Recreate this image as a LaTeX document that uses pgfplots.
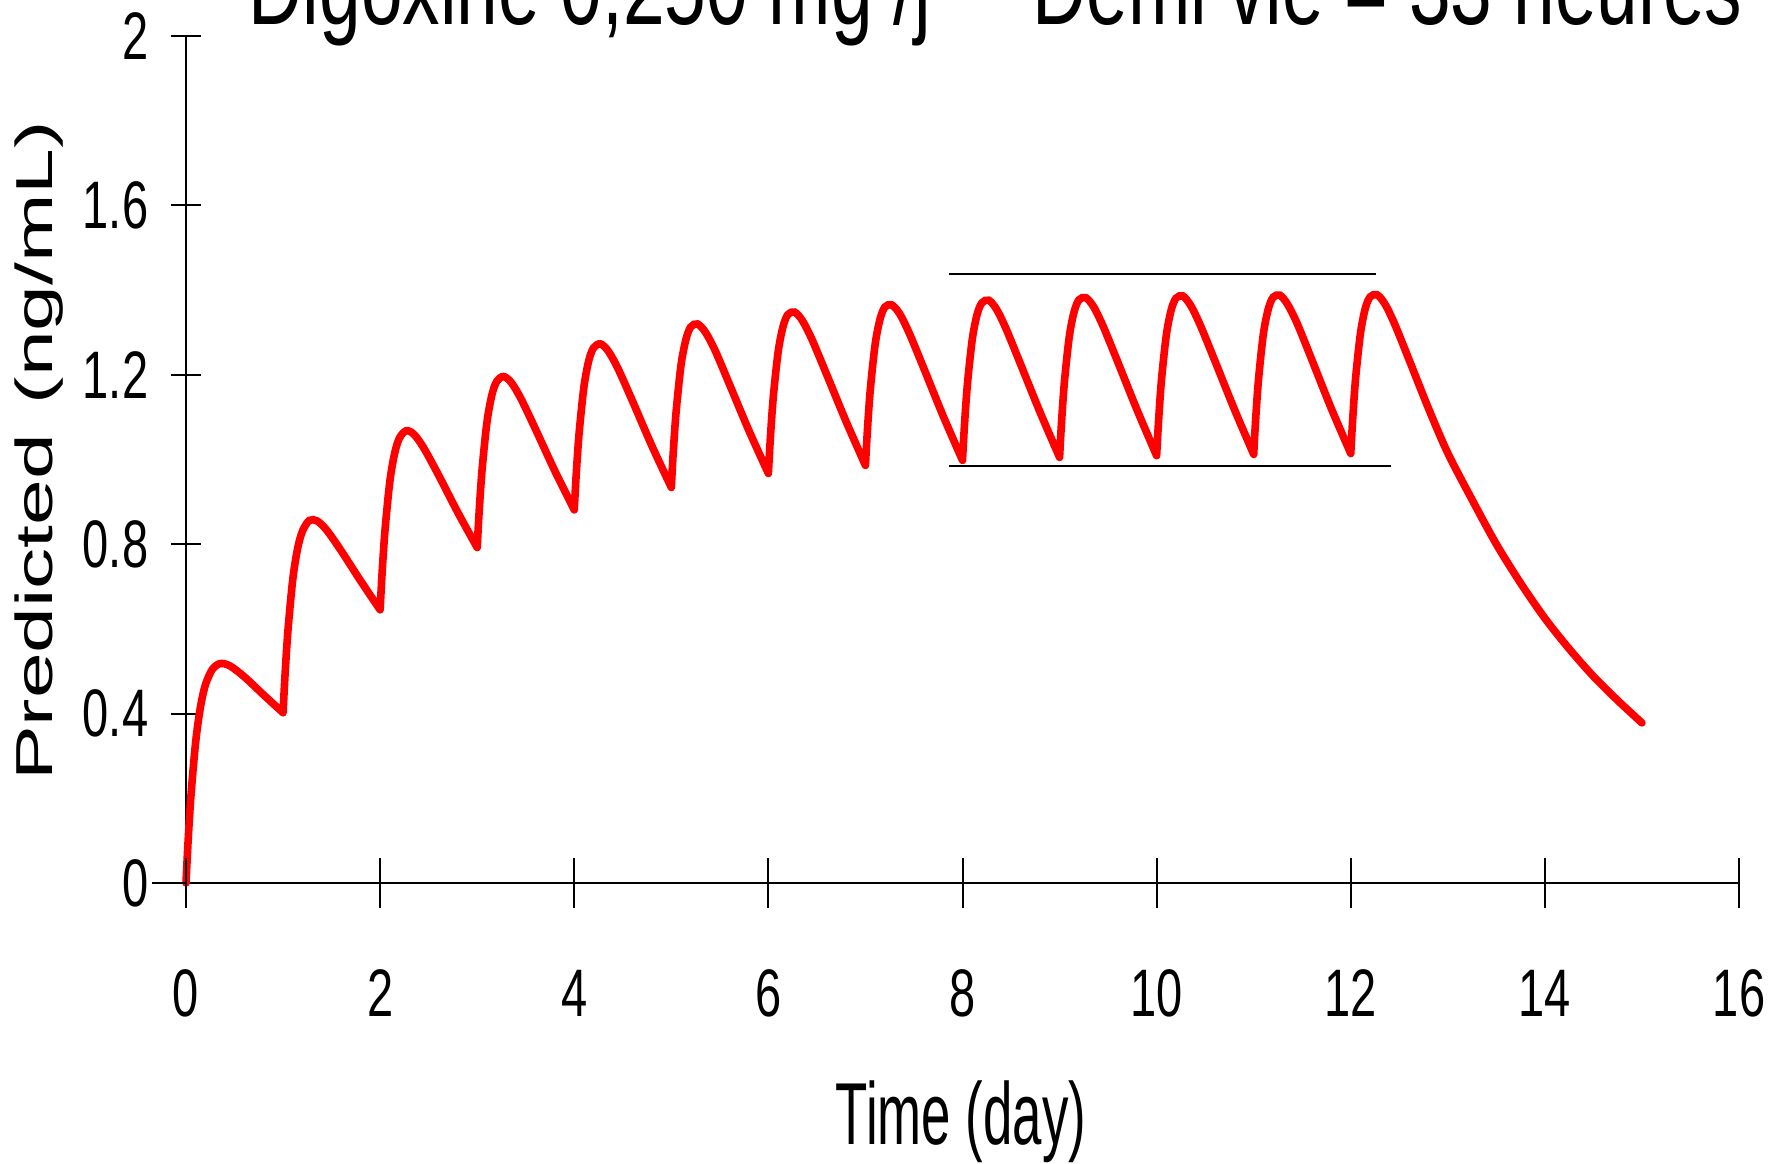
\documentclass[border=0pt]{standalone}
\usepackage{graphicx}
\usepackage{pgfplots}
\usepackage{pgfplotstable}
\pgfplotsset{compat=1.18}
\usepackage{fontspec}
\setmainfont{Liberation Sans}
\newfontfamily\tickfam[FakeStretch=0.7]{Liberation Sans}
\newfontfamily\titlefam[FakeStretch=0.72]{Liberation Sans}
\newfontfamily\xlabfam[FakeStretch=0.6]{Liberation Sans}
\newcommand\tickf{\tickfam\fontsize{16.8pt}{18pt}\selectfont}
\newcommand\titlef{\titlefam\fontsize{26pt}{30pt}\selectfont}
\newcommand\xlabf{\xlabfam\fontsize{22pt}{26pt}\selectfont}
\newcommand\ylabf{\fontsize{13pt}{15pt}\selectfont}

\pgfplotstableread{
t c
0 0
0.02 0.092
0.05 0.203
0.1 0.334
0.15 0.417
0.2 0.468
0.27 0.504
0.35 0.518
0.45 0.513
0.6 0.487
0.8 0.444
1 0.402
nan nan
1 0.402
1.02 0.490
1.05 0.595
1.1 0.717
1.15 0.790
1.2 0.831
1.27 0.856
1.35 0.855
1.45 0.833
1.6 0.784
1.8 0.713
2 0.645
nan nan
2 0.645
2.02 0.731
2.05 0.832
2.1 0.948
2.15 1.015
2.2 1.051
2.27 1.068
2.35 1.059
2.45 1.027
2.6 0.964
2.8 0.875
3 0.792
nan nan
3 0.792
3.02 0.876
3.05 0.975
3.1 1.087
3.15 1.151
3.2 1.184
3.27 1.196
3.35 1.182
3.45 1.144
3.6 1.072
3.8 0.973
4 0.881
nan nan
4 0.881
4.02 0.964
4.05 1.062
4.1 1.172
4.15 1.234
4.2 1.264
4.27 1.273
4.35 1.256
4.45 1.215
4.6 1.138
4.8 1.032
5 0.934
nan nan
5 0.934
5.02 1.017
5.05 1.114
5.1 1.223
5.15 1.283
5.2 1.313
5.27 1.320
5.35 1.301
5.45 1.258
5.6 1.177
5.8 1.068
6 0.967
nan nan
6 0.967
6.02 1.049
6.05 1.146
6.1 1.253
6.15 1.313
6.2 1.342
6.27 1.348
6.35 1.328
6.45 1.283
6.6 1.201
6.8 1.090
7 0.986
nan nan
7 0.986
7.02 1.068
7.05 1.165
7.1 1.272
7.15 1.331
7.2 1.360
7.27 1.365
7.35 1.345
7.45 1.299
7.6 1.216
7.8 1.103
8 0.998
nan nan
8 0.998
8.02 1.080
8.05 1.176
8.1 1.283
8.15 1.342
8.2 1.370
8.27 1.376
8.35 1.355
8.45 1.308
8.6 1.224
8.8 1.111
9 1.005
nan nan
9 1.005
9.02 1.087
9.05 1.183
9.1 1.290
9.15 1.349
9.2 1.377
9.27 1.382
9.35 1.361
9.45 1.314
9.6 1.230
9.8 1.116
10 1.009
nan nan
10 1.009
10.02 1.091
10.05 1.188
10.1 1.294
10.15 1.353
10.2 1.381
10.27 1.386
10.35 1.364
10.45 1.317
10.6 1.233
10.8 1.119
11 1.012
nan nan
11 1.012
11.02 1.094
11.05 1.190
11.1 1.297
11.15 1.355
11.2 1.383
11.27 1.388
11.35 1.366
11.45 1.320
11.6 1.235
11.8 1.120
12 1.014
nan nan
12 1.014
12.02 1.095
12.05 1.192
12.1 1.298
12.15 1.357
12.2 1.384
12.27 1.389
12.35 1.368
12.45 1.321
12.6 1.236
12.8 1.121
13 1.015
13.25 0.905
13.5 0.800
13.75 0.708
14 0.625
14.25 0.553
14.5 0.488
14.75 0.431
15 0.378
}\conc

\begin{document}
\begin{tikzpicture}
\useasboundingbox (-46.5pt,-70.25pt) rectangle (395.5pt,220.75pt);
\clip (-46.5pt,-70.25pt) rectangle (395.5pt,220.75pt);
\begin{axis}[
  at={(0pt,0pt)}, anchor=south west,
  scale only axis, width=388.25pt, height=211.75pt,
  xmin=0, xmax=16, ymin=0, ymax=2,
  axis x line=bottom, axis y line=left,
  axis line style={-, line width=0.6pt, black},
  xtick={0,2,4,6,8,10,12,14,16},
  ytick={0,0.4,0.8,1.2,1.6,2},
  yticklabels={0,0.4,0.8,1.2,1.6,2},
  xticklabels={0,2,4,6,8,10,12,14,16},
  tick align=center, major tick length=7.5pt,
  xtick style={draw=none},
  ytick style={line width=0.5pt, black},
  xticklabel style={font=\tickf, anchor=center, yshift=-23.75pt, inner sep=0pt},
  yticklabel style={font=\tickf, anchor=east, inner sep=0pt, xshift=-5.5pt},
  clip=false,
]
\addplot[red, line width=1.9pt, mark=none, smooth, tension=0.5, line cap=round, unbounded coords=jump] table[x=t, y=c] {\conc};
\addplot[black, line width=0.5pt, mark=none] coordinates {(7.86,1.437) (12.26,1.437)};
\addplot[black, line width=0.5pt, mark=none] coordinates {(7.86,0.984) (12.41,0.984)};
\pgfplotsinvokeforeach{0,2,4,6,8,10,12,14,16}{
  \draw[line width=0.5pt, black] (axis cs:#1,0) ++(0pt,-6.25pt) -- ++(0pt,12.5pt);
}
\draw[line width=0.6pt, black] (axis cs:0,0) -- ++(-8.5pt,0pt);
\end{axis}
\node[font=\titlef, anchor=base west, inner sep=0pt] at (15.5pt,214.6pt) {Digoxine 0,250 mg /j};
\node[font=\titlef, anchor=base west, inner sep=0pt] at (211.5pt,214.6pt) {Demi vie = 33 heures};
\node[font=\xlabf, anchor=base, inner sep=0pt] at (193.75pt,-65.5pt) {Time (day)};
\node[rotate=90, inner sep=0pt] at (-36.65pt,108pt) {\scalebox{1.58}[1]{\ylabf Predicted\hspace{4.7pt}(ng/mL)}};
\end{tikzpicture}
\end{document}
